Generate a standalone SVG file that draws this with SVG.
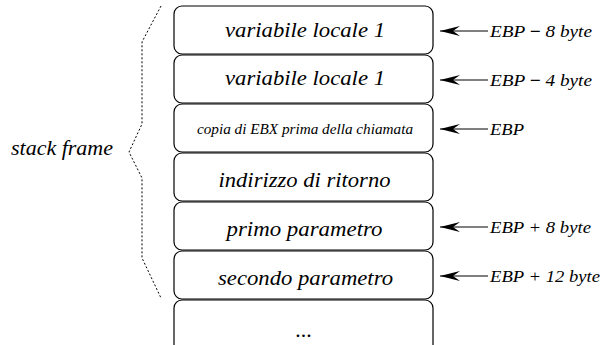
<svg xmlns="http://www.w3.org/2000/svg" width="602" height="345" viewBox="0 0 602 345">
<style>
.box{fill:#fff;stroke:#000;stroke-width:1.2}
text{font-family:"Liberation Serif","Times New Roman","DejaVu Serif",serif;font-style:italic;fill:#000}
.t{font-size:22px;text-anchor:middle}
.s{font-size:15px}
.a{font-size:17px}
.ln{stroke:#000;stroke-width:1;fill:none}
.br{stroke:#000;stroke-width:1;fill:none;stroke-dasharray:2,2}
</style>
<defs>
<marker id="ah" viewBox="0 0 20 10" refX="20" refY="5" markerWidth="20" markerHeight="10" markerUnits="userSpaceOnUse" orient="auto">
<path d="M20,5 L0,0 L7,5 L0,10 Z" fill="#000"/>
</marker>
</defs>
<g id="node1"><rect class="box" x="174" y="6" width="259" height="48" rx="8"/><text class="t" x="305" y="37" textLength="160" lengthAdjust="spacingAndGlyphs">variabile locale 1</text></g>
<g id="node2"><rect class="box" x="174" y="55" width="259" height="48" rx="8"/><text class="t" x="305" y="85" textLength="160" lengthAdjust="spacingAndGlyphs">variabile locale 1</text></g>
<g id="node3"><rect class="box" x="174" y="104" width="259" height="48" rx="8"/><text class="t s" x="305" y="134" textLength="216" lengthAdjust="spacingAndGlyphs">copia di EBX prima della chiamata</text></g>
<g id="node4"><rect class="box" x="174" y="153" width="259" height="48" rx="8"/><text class="t" x="304.5" y="187" textLength="172" lengthAdjust="spacingAndGlyphs">indirizzo di ritorno</text></g>
<g id="node5"><rect class="box" x="174" y="202" width="259" height="48" rx="8"/><text class="t" x="304.5" y="236" textLength="156" lengthAdjust="spacingAndGlyphs">primo parametro</text></g>
<g id="node6"><rect class="box" x="174" y="251" width="259" height="48" rx="8"/><text class="t" x="305.5" y="285" textLength="175" lengthAdjust="spacingAndGlyphs">secondo parametro</text></g>
<g id="node7"><rect class="box" x="174" y="300" width="259" height="60" rx="8"/><text class="t" x="304" y="337">...</text></g>
<g id="brace"><path class="br" d="M161,6 L142,42 L142,124 L129,152 L142,178 L142,258 L161,298"/><text class="t" x="62" y="155" textLength="102" lengthAdjust="spacingAndGlyphs">stack frame</text></g>
<g id="connectors">
<path class="ln" d="M488,31 L440,31" marker-end="url(#ah)"/>
<path class="ln" d="M488,80 L440,80" marker-end="url(#ah)"/>
<path class="ln" d="M488,129 L440,129" marker-end="url(#ah)"/>
<path class="ln" d="M488,227 L440,227" marker-end="url(#ah)"/>
<path class="ln" d="M488,276 L440,276" marker-end="url(#ah)"/>
</g>
<g id="labels">
<text class="a" x="490" y="37" textLength="102" lengthAdjust="spacingAndGlyphs">EBP <tspan font-weight="bold" font-style="normal">−</tspan> 8 byte</text>
<text class="a" x="490" y="86" textLength="102" lengthAdjust="spacingAndGlyphs">EBP <tspan font-weight="bold" font-style="normal">−</tspan> 4 byte</text>
<text class="a" x="490" y="135" textLength="34" lengthAdjust="spacingAndGlyphs">EBP</text>
<text class="a" x="490" y="233" textLength="101" lengthAdjust="spacingAndGlyphs">EBP + 8 byte</text>
<text class="a" x="490" y="282" textLength="110" lengthAdjust="spacingAndGlyphs">EBP + 12 byte</text>
</g>
</svg>
